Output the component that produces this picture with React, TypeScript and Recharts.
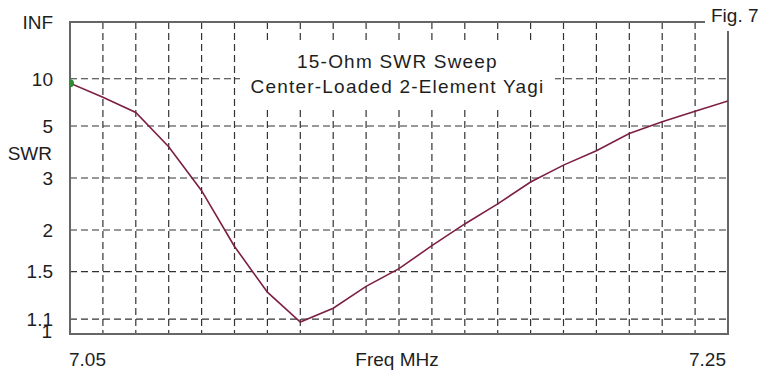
import React from 'react';
import {
  LineChart,
  Line,
  XAxis,
  YAxis,
  CartesianGrid,
  ReferenceArea,
} from 'recharts';

// sweep points, 10 kHz apart
const freqs = [
  7.05, 7.06, 7.07, 7.08, 7.09, 7.1, 7.11, 7.12, 7.13, 7.14, 7.15,
  7.16, 7.17, 7.18, 7.19, 7.2, 7.21, 7.22, 7.23, 7.24, 7.25,
];
const swrValues = [
  9.2, 7.3, 5.9, 4.0, 2.7, 1.78, 1.31, 1.08, 1.18, 1.36, 1.53,
  1.79, 2.09, 2.43, 2.9, 3.36, 3.85, 4.6, 5.25, 6.0, 6.9,
];

const swrTicks = [1, 1.1, 1.5, 2, 3, 5, 10, Infinity];
const swrTickLabels = ['1', '1.1', '1.5', '2', '3', '5', '10', 'INF'];
const freqTickLabels = ['7.05', '7.25'];

const FONT = '"Liberation Sans", Arial, sans-serif';
const TEXT = '#1e1e1e';

// SWR chart paper is linear in reflection coefficient
const toRho = (s: number) => (s === Infinity ? 1 : (s - 1) / (s + 1));

const data = freqs.map((f, i) => ({ freq: f, swr: swrValues[i], rho: toRho(swrValues[i]) }));
const rhoTicks = swrTicks.map(toRho);

const YTick = (props: any) => {
  const { x, y, index } = props;
  const label = swrTickLabels[index];
  return (
    <text
      x={index === 0 ? x - 18 : x - 17}
      y={index === 0 ? y - 3 : y}
      dy="0.36em"
      textAnchor="end"
      fontSize={19}
      fontFamily={FONT}
      fill={TEXT}
    >
      {label}
    </text>
  );
};

const XTick = (props: any) => {
  const { x, y, index } = props;
  if (index === 0) {
    return (
      <text x={x - 1} y={y + 25} dy="0.36em" textAnchor="start" fontSize={19} fontFamily={FONT} fill={TEXT}>
        {freqTickLabels[0]}
      </text>
    );
  }
  if (index === freqs.length - 1) {
    return (
      <text x={x - 2} y={y + 25} dy="0.36em" textAnchor="end" fontSize={19} fontFamily={FONT} fill={TEXT}>
        {freqTickLabels[1]}
      </text>
    );
  }
  return <g />;
};

const StartDot = (props: any) => {
  const { cx, cy, index } = props;
  if (index !== 0) return <g key={'d' + index} />;
  return <circle key="d0" cx={cx} cy={cy} r={4} fill="#2e8b34" />;
};

export default function App() {
  return (
    <div
      style={{
        position: 'absolute',
        left: 0,
        top: 0,
        width: 767,
        height: 370,
        background: '#fff',
        fontFamily: FONT,
        color: TEXT,
      }}
    >
      <LineChart
        width={767}
        height={370}
        data={data}
        margin={{ top: 22, right: 39, left: 0, bottom: 0 }}
      >
        <CartesianGrid stroke="#333" strokeWidth={1.2} strokeDasharray="7 4" />
        <XAxis
          dataKey="freq"
          type="number"
          domain={[7.05, 7.25]}
          ticks={freqs}
          interval={0}
          height={36}
          axisLine={false}
          tickLine={false}
          tickSize={0}
          tickMargin={0}
          tick={<XTick />}
          allowDataOverflow
          label={{
            content: (p: any) => {
              const vb = p.viewBox;
              return (
                <text
                  x={vb.x + vb.width / 2 - 2}
                  y={vb.y + 25}
                  dy="0.36em"
                  textAnchor="middle"
                  fontSize={19}
                  fontFamily={FONT}
                  fill={TEXT}
                >
                  Freq MHz
                </text>
              );
            },
          }}
        />
        <YAxis
          type="number"
          domain={[0, 1]}
          ticks={rhoTicks}
          interval={0}
          width={70}
          axisLine={false}
          tickLine={false}
          tickSize={0}
          tickMargin={0}
          tick={<YTick />}
          allowDataOverflow
          label={{
            content: (p: any) => {
              const vb = p.viewBox;
              return (
                <text
                  x={vb.x + 52}
                  y={vb.y + 131}
                  dy="0.36em"
                  textAnchor="end"
                  fontSize={19}
                  fontFamily={FONT}
                  fill={TEXT}
                >
                  SWR
                </text>
              );
            },
          }}
        />
        <ReferenceArea
          x1={7.05}
          x2={7.25}
          y1={0}
          y2={1}
          fill="none"
          fillOpacity={0}
          stroke="#666"
          strokeWidth={2}
          ifOverflow="visible"
        />
        <Line
          type="linear"
          dataKey="rho"
          stroke="#7d1f45"
          strokeWidth={1.6}
          dot={StartDot}
          activeDot={false}
          isAnimationActive={false}
        />
      </LineChart>

      {/* title box blanks out the grid behind it */}
      <div
        style={{
          position: 'absolute',
          left: 240,
          top: 41,
          width: 315,
          height: 65,
          paddingTop: 8,
          boxSizing: 'border-box',
          background: '#fff',
          textAlign: 'center',
          fontSize: 19,
          lineHeight: '25px',
          letterSpacing: 1.2,
          whiteSpace: 'nowrap',
        }}
      >
        <div>15-Ohm SWR Sweep</div>
        <div>Center-Loaded 2-Element Yagi</div>
      </div>

      <div
        style={{
          position: 'absolute',
          left: 705,
          top: 0,
          width: 62,
          height: 31,
          background: '#fff',
          fontSize: 19,
          lineHeight: '31px',
          paddingLeft: 6,
          boxSizing: 'border-box',
          whiteSpace: 'nowrap',
        }}
      >
        Fig. 7
      </div>
    </div>
  );
}
